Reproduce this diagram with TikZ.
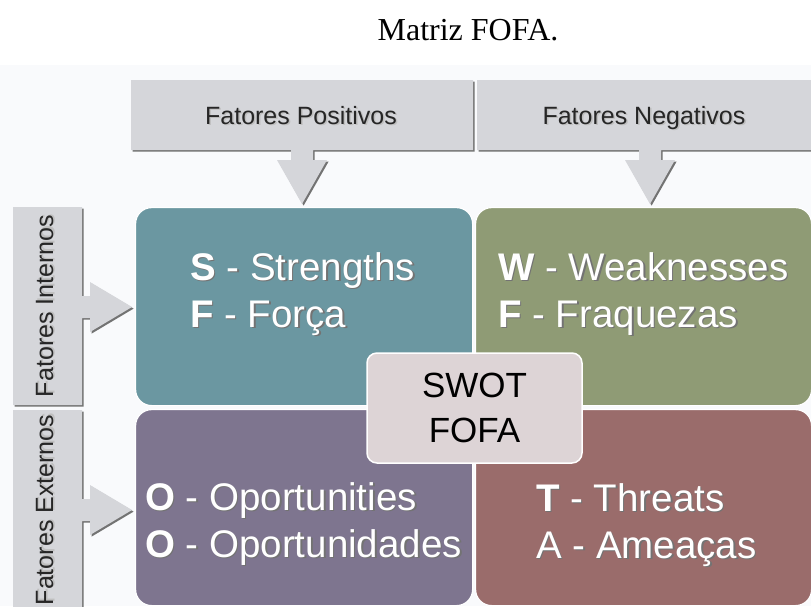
\documentclass[tikz,border=0pt]{standalone}
\usepackage{fontspec}
\setmainfont{Liberation Serif}
\setsansfont{Liberation Sans}
\usepackage{tikz}

\definecolor{bgtint}{HTML}{F9FAFC}
\definecolor{boxgray}{HTML}{D5D6DA}
\definecolor{quadS}{HTML}{6B97A1}
\definecolor{quadW}{HTML}{8F9B75}
\definecolor{quadO}{HTML}{7E758F}
\definecolor{quadT}{HTML}{9A6C6B}
\definecolor{swotfill}{HTML}{DDD4D6}

\newcommand\shtext[2][black!55]{\rlap{\hspace{1.5pt}\raisebox{-1.5pt}{\color{#1}#2}}#2}

\begin{document}
\begin{tikzpicture}[x=1pt,y=-1pt,
    graybox/.style={fill=boxgray, preaction={fill=black!55, transform canvas={shift={(1.6pt,-1.6pt)}}}},
    quad/.style={draw=white, line width=1.2pt, rounded corners=16pt, anchor=north west, inner sep=0pt},
    lbl/.style={font=\sffamily\fontsize{25}{29}\selectfont, text=black!85, inner sep=0pt},
    quadtxt/.style={font=\sffamily\fontsize{38.5}{47}\selectfont, text=white, align=left, inner sep=0pt, anchor=base west}]
        \useasboundingbox (0,0) rectangle (811,606);
        \fill[bgtint] (0,65) rectangle (811,606);
        \node[font=\fontsize{32}{38}\selectfont, anchor=base, inner sep=0pt] (title) at (468,40) {Matriz FOFA.};

        \foreach \xa/\xb/\xc in {131/473/302, 477/815/650}
        \path[graybox] (\xa,80) -- (\xb,80) -- (\xb,150) -- ({\xc+11},150) -- ({\xc+11},160) -- ({\xc+25},160)
        -- (\xc,204) -- ({\xc-25},160) -- ({\xc-11},160) -- ({\xc-11},150) -- (\xa,150) -- cycle;
        \foreach \ya/\yb/\yc in {207/405/307, 410/614/510}
        \path[graybox] (13,\ya) -- (82,\ya) -- (82,{\yc-11}) -- (90,{\yc-11}) -- (90,{\yc-25}) -- (132,\yc)
        -- (90,{\yc+25}) -- (90,{\yc+11}) -- (82,{\yc+11}) -- (82,\yb) -- (13,\yb) -- cycle;

        \node[lbl, anchor=base] (fpos) at (301,124) {\shtext[black!25]{Fatores Positivos}};
        \node[lbl, anchor=base] (fneg) at (644,124) {\shtext[black!25]{Fatores Negativos}};
        \node[lbl, anchor=base, rotate=90] (fint) at (53,306) {\shtext[black!25]{Fatores Internos}};
        \node[lbl, anchor=base, rotate=90] (fext) at (53,510) {\shtext[black!25]{Fatores Externos}};

        \node[quad, fill=quadS, minimum width=337pt, minimum height=198pt] (qS) at (135,207) {};
        \node[quad, fill=quadW, minimum width=336pt, minimum height=198pt] (qW) at (475,207) {};
        \node[quad, fill=quadO, minimum width=337pt, minimum height=196pt] (qO) at (135,409) {};
        \node[quad, fill=quadT, minimum width=336pt, minimum height=196pt] (qT) at (475,409) {};

        \node[quadtxt] (tS) at (190,327) {\shtext{\textbf{S} - Strengths}\\\shtext{\textbf{F} - Força}};
        \node[quadtxt] (tW) at (498,327) {\shtext{\textbf{W} - Weaknesses}\\\shtext{\textbf{F} - Fraquezas}};
        \node[quadtxt] (tO) at (145,557) {\shtext{\textbf{O} - Oportunities}\\\shtext{\textbf{O} - Oportunidades}};
        \node[quadtxt] (tT) at (536,558) {\shtext{\textbf{T} - Threats}\\\shtext{A - Ameaças}};

        \node[draw=white, line width=1.5pt, fill=swotfill, rounded corners=10pt, minimum width=215pt, minimum height=110pt,
        align=center, font=\sffamily\fontsize{35}{45}\selectfont] (swot) at (474.5,408) {SWOT\\FOFA};
\end{tikzpicture}
\end{document}
